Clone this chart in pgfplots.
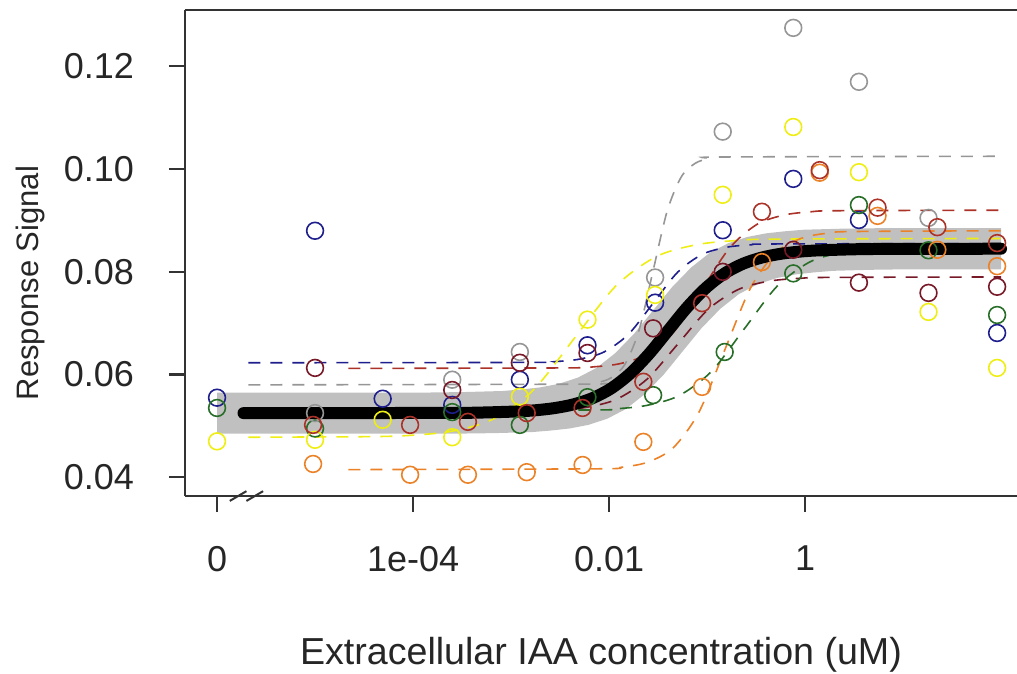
\documentclass[border=0pt]{standalone}
\usepackage{pgfplots}
\pgfplotsset{compat=1.18}
\usepackage{fontspec}
\setmainfont{Liberation Sans}
\definecolor{cnavy}{RGB}{30,30,140}
\definecolor{cgreen}{RGB}{40,110,40}
\definecolor{cgray}{RGB}{150,150,150}
\definecolor{cyellow}{RGB}{238,238,20}
\definecolor{corange}{RGB}{235,130,40}
\definecolor{cbrown}{RGB}{170,50,40}
\definecolor{cmaroon}{RGB}{120,25,40}
\definecolor{cband}{RGB}{192,192,192}
\begin{document}
\begin{tikzpicture}
\path[use as bounding box] (-92.5pt,-89pt) rectangle (416pt,248pt);
\begin{axis}[
  at={(0,0)}, anchor=south west,
  scale only axis, width=416pt, height=243pt,
  xmin=-6.327, xmax=2.163, ymin=0.03636, ymax=0.13098,
  axis lines*=left,
  axis line style={line width=1.1pt, black!80},
  clip mode=individual,
  tick align=outside,
  major tick length=8pt,
  tick style={line width=1.1pt, black!80},
  xtick={-6,-4,-2,0}, xticklabels={0,1e-04,0.01,1},
  ytick={0.04,0.06,0.08,0.1,0.12}, yticklabels={0.04,0.06,0.08,0.10,0.12},
  tick label style={font=\fontsize{18}{21}\selectfont, text=black!85},
  xticklabel style={yshift=-13.5pt},
  yticklabel style={xshift=-14pt},
  xlabel={Extracellular IAA concentration (uM)},
  ylabel={Response Signal},
  xlabel style={font=\fontsize{18.8}{22}\selectfont, text=black!85, at={(axis description cs:0.5,-0.3272)}, anchor=center},
  ylabel style={font=\fontsize{15.5}{18}\selectfont, text=black!85, at={(axis description cs:-0.1863,0.438)}, anchor=center},
  mk/.style={only marks, mark=o, mark size=4.2pt, mark options={line width=0.8pt}},
  dsh/.style={smooth, line width=0.8pt, dash pattern=on 6pt off 5pt},
]
% confidence band
\addplot[fill=cband, draw=none] coordinates {
(-6,0.0565) (-3.858,0.0565) (-3.473,0.0566) (-3.088,0.0568) (-2.896,0.0571) (-2.704,0.0575)
(-2.512,0.0582) (-2.319,0.0594) (-2.127,0.0613) (-1.935,0.0642) (-1.742,0.0680) (-1.550,0.0725)
(-1.358,0.0770) (-1.165,0.0808) (-0.973,0.0837) (-0.781,0.0856) (-0.588,0.0868) (-0.396,0.0875)
(-0.204,0.0879) (-0.012,0.0882) (0.373,0.0884) (0.758,0.0885) (2,0.0885)
(2,0.0805) (1.058,0.0805) (0.673,0.0804) (0.288,0.0802) (0.096,0.0799) (-0.096,0.0795)
(-0.288,0.0788) (-0.481,0.0776) (-0.673,0.0757) (-0.865,0.0728) (-1.058,0.0690) (-1.250,0.0645)
(-1.442,0.0600) (-1.635,0.0562) (-1.827,0.0533) (-2.019,0.0514) (-2.212,0.0502) (-2.404,0.0495)
(-2.596,0.0491) (-2.788,0.0488) (-3.173,0.0486) (-3.558,0.0485) (-6,0.0485)
} -- cycle;
% dashed fits
\addplot[dsh, cnavy] coordinates {(-5.68,0.0623) (-2.80,0.06237) (-2.55,0.06253) (-2.30,0.06301) (-2.05,0.06441) (-1.80,0.06788) (-1.55,0.0739) (-1.30,0.07993) (-1.05,0.08339) (-0.80,0.08479) (-0.55,0.08527) (-0.30,0.08543) (2,0.0855)};
\addplot[dsh, cgray] coordinates {(-5.68,0.058) (-2.264,0.05814) (-2.121,0.05844) (-1.979,0.05937) (-1.836,0.06205) (-1.693,0.06869) (-1.55,0.08025) (-1.407,0.09181) (-1.264,0.09845) (-1.121,0.10113) (-0.979,0.10206) (-0.836,0.10236) (2,0.1025)};
\addplot[dsh, cyellow] coordinates {(-5.68,0.0478) (-4.433,0.04792) (-4.017,0.04818) (-3.6,0.04899) (-3.183,0.05132) (-2.767,0.0571) (-2.35,0.06715) (-1.933,0.0772) (-1.517,0.08298) (-1.1,0.08531) (-0.683,0.08612) (-0.267,0.08638) (2,0.0865)};
\addplot[dsh, corange] coordinates {(-4.66,0.0415) (-2.136,0.04165) (-1.873,0.04196) (-1.609,0.04293) (-1.346,0.04573) (-1.083,0.05267) (-0.82,0.06475) (-0.557,0.07683) (-0.294,0.08377) (-0.031,0.08657) (0.233,0.08754) (0.496,0.08785) (2,0.0880)};
\addplot[dsh, cgreen] coordinates {(-5.68,0.053) (-2.287,0.0531) (-1.953,0.05331) (-1.62,0.05398) (-1.287,0.05589) (-0.953,0.06064) (-0.62,0.0689) (-0.287,0.07716) (0.047,0.08191) (0.38,0.08382) (0.713,0.08449) (1.047,0.0847) (2,0.0848)};
\addplot[dsh, cmaroon] coordinates {(-5.68,0.0528) (-2.863,0.05288) (-2.55,0.05306) (-2.238,0.0536) (-1.925,0.05518) (-1.613,0.0591) (-1.3,0.0659) (-0.988,0.0727) (-0.675,0.07662) (-0.363,0.0782) (-0.05,0.07874) (0.263,0.07892) (2,0.0790)};
\addplot[dsh, cbrown] coordinates {(-4.66,0.0612) (-2.439,0.0613) (-2.161,0.0615) (-1.883,0.06215) (-1.606,0.0640) (-1.328,0.0686) (-1.05,0.0766) (-0.772,0.0846) (-0.494,0.0892) (-0.217,0.09105) (0.061,0.0917) (0.339,0.0919) (2,0.0920)};
% overall fit
\addplot[smooth, black, line width=6pt, line cap=round] coordinates {(-5.73,0.0525) (-3.708,0.05253) (-3.323,0.0526) (-2.938,0.05282) (-2.746,0.05306) (-2.554,0.05348) (-2.362,0.0542) (-2.169,0.05541) (-1.977,0.05733) (-1.785,0.06019) (-1.592,0.06402) (-1.4,0.0685) (-1.208,0.07298) (-1.015,0.07681) (-0.823,0.07967) (-0.631,0.08159) (-0.438,0.0828) (-0.246,0.08352) (-0.054,0.08394) (0.138,0.08418) (0.523,0.0844) (0.908,0.08447) (2,0.0845)};
% data points
\addplot[mk, cnavy] coordinates {(-6,0.0555) (-5,0.0880) (-4.31,0.0553) (-3.6,0.0541) (-2.91,0.0590) (-2.22,0.0657) (-1.53,0.0740) (-0.84,0.0881) (-0.12,0.0981) (0.55,0.0901) (1.96,0.0681)};
\addplot[mk, cgreen] coordinates {(-6,0.0535) (-5,0.0495) (-3.6,0.0527) (-2.91,0.0502) (-2.22,0.0556) (-1.55,0.0560) (-0.82,0.0644) (-0.12,0.0797) (0.55,0.0930) (1.26,0.0842) (1.96,0.0716)};
\addplot[mk, cgray] coordinates {(-5,0.0525) (-3.6,0.0590) (-2.91,0.0644) (-1.53,0.0789) (-0.84,0.1073) (-0.12,0.1275) (0.55,0.1170) (1.26,0.0905)};
\addplot[mk, cyellow] coordinates {(-6,0.0470) (-5,0.0473) (-4.31,0.0512) (-3.6,0.0478) (-2.91,0.0557) (-2.22,0.0707) (-1.53,0.0755) (-0.84,0.0950) (-0.12,0.1082) (0.55,0.0994) (1.26,0.0722) (1.96,0.0613)};
\addplot[mk, corange] coordinates {(-5.02,0.0426) (-4.03,0.0405) (-3.44,0.0405) (-2.84,0.0410) (-2.27,0.0424) (-1.65,0.0469) (-1.05,0.0576) (-0.44,0.0819) (0.15,0.0993) (0.74,0.0909) (1.35,0.0843) (1.96,0.0811)};
\addplot[mk, cbrown] coordinates {(-5.02,0.0502) (-4.03,0.0502) (-3.44,0.0508) (-2.84,0.0525) (-2.27,0.0535) (-1.65,0.0586) (-1.05,0.0739) (-0.44,0.0917) (0.15,0.0998) (0.74,0.0925) (1.35,0.0887) (1.96,0.0856)};
\addplot[mk, cmaroon] coordinates {(-5,0.0613) (-3.6,0.0570) (-2.91,0.0623) (-2.22,0.0642) (-1.55,0.0690) (-0.84,0.0800) (-0.12,0.0843) (0.55,0.0779) (1.26,0.0759) (1.96,0.0771)};
% top frame line and axis break
\draw[line width=1.1pt, black!80] (rel axis cs:0,1) -- (rel axis cs:1,1);
\draw[line width=1pt, black!80] (axis cs:-5.87,0.0354) -- (axis cs:-5.70,0.0373);
\draw[line width=1pt, black!80] (axis cs:-5.70,0.0354) -- (axis cs:-5.53,0.0373);
\end{axis}
\end{tikzpicture}
\end{document}
